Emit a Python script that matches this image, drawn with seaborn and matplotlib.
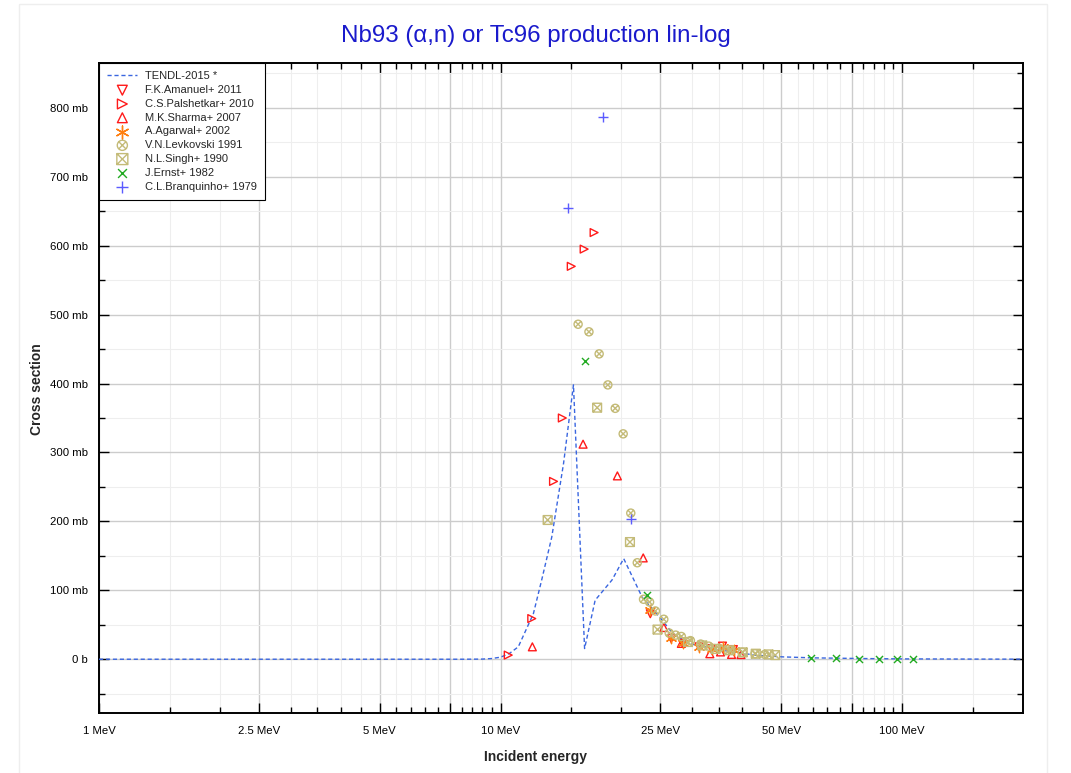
import numpy as np
import seaborn as sns
import matplotlib.pyplot as plt
from matplotlib.path import Path
from matplotlib.ticker import FixedLocator, FuncFormatter, NullFormatter
from matplotlib.patches import Rectangle

sns.set_style('white')
plt.rcParams['font.family'] = ['Liberation Sans', 'DejaVu Sans']

# TENDL-2015 evaluation (energy MeV, cross section mb)
tendl_e = [1, 2, 5, 8, 9, 9.5, 10, 10.5, 11.07, 12.07, 12.66, 13.41, 14.35, 15.19,
           16.19, 17.2, 18.95, 20.26, 22.52, 25.27, 26.8, 29.4, 35.7, 43.2, 50.5,
           60, 80, 100, 150, 200]
tendl_s = [0, 0, 0, 0, 0.2, 1, 3, 8, 18, 66, 115, 177, 284, 398,
           15.5, 85.6, 115, 146, 90, 56.6, 37.7, 22.8, 13, 5.8, 3.4,
           2, 1, 0.5, 0.2, 0.1]

amanuel_e = [23.6, 26.6, 28.4, 31.2, 33.5, 35.7, 38.0]
amanuel_s = [66, 30, 23, 18, 15.5, 19, 14]

palshetkar_e = [10.45, 11.96, 13.55, 14.25, 15.0, 16.15, 17.1]
palshetkar_s = [6, 59, 258, 350, 570, 595, 619]

sharma_e = [12.0, 16.05, 19.54, 22.66, 25.5, 28.2, 33.2, 35.3, 37.6, 39.7]
sharma_s = [18, 312, 266, 147, 46, 23, 8, 10.6, 7, 6.8]

agarwal_e = [23.6, 26.6, 28.5, 31.2, 33.6, 35.8, 38.1]
agarwal_s = [72, 31, 24, 18, 15, 18, 14]

levkovski_e = [15.6, 16.6, 17.6, 18.5, 19.3, 20.2, 21.1, 21.9, 22.7, 23.5, 24.3, 25.5,
               26.3, 27.3, 28.2, 29.7, 31.5, 33.0, 35.0, 37.5, 40.0, 43.0, 45.5]
levkovski_s = [486, 475, 443, 398, 364, 327, 212, 140, 87, 83, 70, 58,
               38, 35, 33, 27, 22, 19, 16, 13, 10, 8, 7]

singh_e = [13.1, 17.4, 21.0, 24.6, 29.3, 31.8, 34.3, 37.1, 40.1, 43.2, 46.5, 48.3]
singh_s = [202, 365, 170, 43, 25, 20, 15, 13, 10, 8, 7, 6]

ernst_e = [16.2, 23.2, 59.3, 68.4, 78.2, 87.6, 97.1, 106.4]
ernst_s = [433, 93, 2.4, 2, 1, 1, 0.5, 0.5]

branquinho_e = [14.7, 18.0, 21.1]
branquinho_s = [654, 786, 203]

xtick_vals = [1, 2.5, 5, 7.5, 10, 25, 50, 75, 100]
xtick_labels = ['1 MeV', '2.5 MeV', '5 MeV', '', '10 MeV', '25 MeV', '50 MeV', '', '100 MeV']

# compound markers: circle with x, square with x
d = 0.7071
xcross = Path([(-d, -d), (d, d), (-d, d), (d, -d)],
              [Path.MOVETO, Path.LINETO, Path.MOVETO, Path.LINETO])
circ_x = Path.make_compound_path(Path.unit_circle(), xcross)
sq = Path([(-1, -1), (1, -1), (1, 1), (-1, 1), (-1, -1)],
          [Path.MOVETO, Path.LINETO, Path.LINETO, Path.LINETO, Path.CLOSEPOLY])
sqx = Path([(-1, -1), (1, 1), (-1, 1), (1, -1)],
           [Path.MOVETO, Path.LINETO, Path.MOVETO, Path.LINETO])
sq_x = Path.make_compound_path(sq, sqx)

fig = plt.figure(figsize=(10.71, 7.73), dpi=100)
fig.patches.append(Rectangle((19/1071, -0.1), (1047-19)/1071, 1.1 - 4/773,
                             transform=fig.transFigure, fill=False,
                             edgecolor='#eeeeee', lw=1))
ax = fig.add_axes([99/1071, 1 - 713/773, (1023-99)/1071, (713-63)/773])

red = '#ff1a1a'
khaki = '#c4bb78'
sns.lineplot(x=tendl_e, y=tendl_s, ax=ax, color='#3a66e0', lw=1, linestyle=(0, (3, 2)),
             label='TENDL-2015 *', zorder=3)
sns.scatterplot(x=amanuel_e, y=amanuel_s, ax=ax, marker='v', s=32, facecolor='none',
                edgecolor=red, linewidth=1, label='F.K.Amanuel+ 2011', zorder=4)
sns.scatterplot(x=palshetkar_e, y=palshetkar_s, ax=ax, marker='>', s=32, facecolor='none',
                edgecolor=red, linewidth=1, label='C.S.Palshetkar+ 2010', zorder=4)
sns.scatterplot(x=sharma_e, y=sharma_s, ax=ax, marker='^', s=32, facecolor='none',
                edgecolor=red, linewidth=1, label='M.K.Sharma+ 2007', zorder=4)
sns.scatterplot(x=agarwal_e, y=agarwal_s, ax=ax, marker=(6, 2, 0), s=55, color='#ff7f10',
                linewidth=1, label='A.Agarwal+ 2002', zorder=4)
sns.scatterplot(x=levkovski_e, y=levkovski_s, ax=ax, marker=circ_x, s=34, facecolor='none',
                edgecolor=khaki, linewidth=1, label='V.N.Levkovski 1991', zorder=4)
sns.scatterplot(x=singh_e, y=singh_s, ax=ax, marker=sq_x, s=40, facecolor='none',
                edgecolor=khaki, linewidth=1, label='N.L.Singh+ 1990', zorder=4)
sns.scatterplot(x=ernst_e, y=ernst_s, ax=ax, marker='x', s=26, color='#22aa22',
                linewidth=1, label='J.Ernst+ 1982', zorder=4)
sns.scatterplot(x=branquinho_e, y=branquinho_s, ax=ax, marker='+', s=50, color='#5b5bff',
                linewidth=1, label='C.L.Branquinho+ 1979', zorder=4)

ax.set_xscale('log')
ax.set_xlim(1, 200)
ax.set_ylim(-78, 865)

ax.xaxis.set_major_locator(FixedLocator(xtick_vals))
ax.set_xticklabels(xtick_labels)
minor_x = list(np.arange(1.5, 10, 0.5)) + list(np.arange(15, 100, 5)) + [150]
ax.xaxis.set_minor_locator(FixedLocator([v for v in minor_x if v not in xtick_vals]))
ax.xaxis.set_minor_formatter(NullFormatter())
ax.yaxis.set_major_locator(FixedLocator(np.arange(0, 801, 100)))
ax.yaxis.set_minor_locator(FixedLocator(np.arange(-50, 851, 100)))
ax.yaxis.set_major_formatter(FuncFormatter(lambda v, p: '0 b' if v == 0 else f'{int(v)} mb'))
ax.yaxis.set_minor_formatter(NullFormatter())

ax.grid(which='major', color='#cccccc', lw=1)
ax.grid(which='minor', color='#eeeeee', lw=0.8)
ax.set_axisbelow(True)
ax.tick_params(which='both', direction='in', top=True, right=True, bottom=True, left=True,
               labelsize=8.2, colors='black', width=1)
ax.tick_params(which='major', length=7)
ax.tick_params(which='minor', length=4)
ax.tick_params(axis='x', which='major', pad=9)
ax.tick_params(axis='y', which='major', pad=8)
for s in ax.spines.values():
    s.set_color('black')
    s.set_linewidth(1.4)

ax.set_xlabel('')
ax.set_ylabel('')
fig.text(37/1071, 1 - 389/773, 'Cross section', rotation=90, ha='center', va='center',
         fontsize=10, fontweight='bold')
fig.text(0.5, 1 - 757/773, 'Incident energy', ha='center', va='center',
         fontsize=10, fontweight='bold')
fig.text(0.5, 1 - 36/773, 'Nb93 (\u03b1,n) or Tc96 production lin-log', ha='center',
         va='center', fontsize=17.4, color='#1a1acc')

leg = ax.legend(loc='upper left', bbox_to_anchor=(0, 1), borderaxespad=0, fontsize=8,
                frameon=True, fancybox=False, edgecolor='black', framealpha=1,
                handlelength=2.7, labelspacing=0.34, borderpad=0.75, handletextpad=0.7,
                markerscale=1.25)
leg.get_frame().set_linewidth(0.8)

fig.savefig('out.png', dpi=100)
